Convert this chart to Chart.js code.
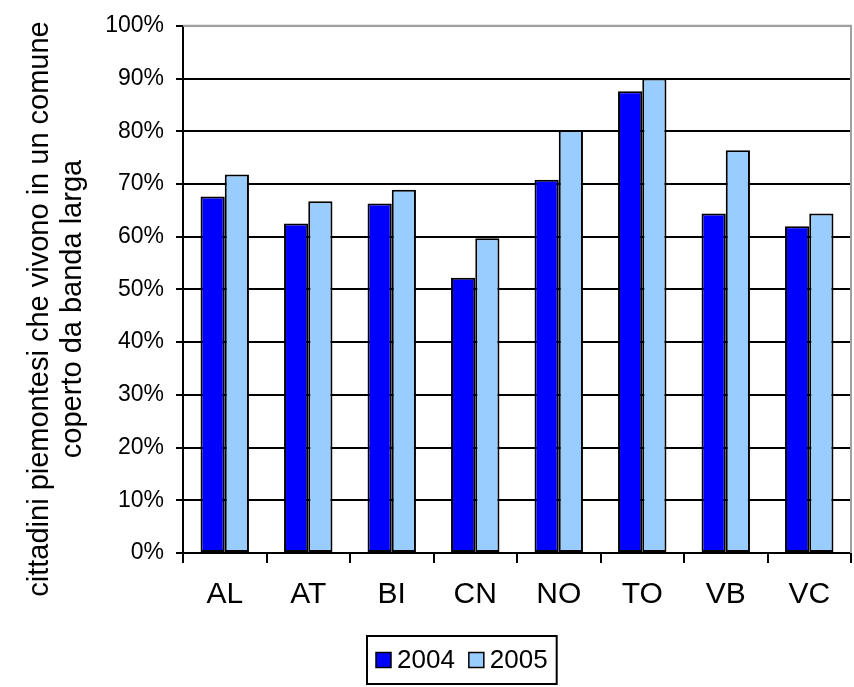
<!DOCTYPE html>
<html>
<head>
<meta charset="utf-8">
<script src="https://cdn.jsdelivr.net/npm/chart.js@4.4.1/dist/chart.umd.min.js"></script>
<style>
  html, body { margin: 0; padding: 0; background: #fff; }
  #wrap { width: 854px; height: 687px; }
</style>
</head>
<body>
<div id="wrap"><canvas id="broadband"></canvas></div>
<script>
// province data
const categories = ["AL", "AT", "BI", "CN", "NO", "TO", "VB", "VC"];
const seriesLabels = ["2004", "2005"];
const values2004 = [67.6, 62.5, 66.3, 52.2, 70.8, 87.6, 64.4, 62.0];
const values2005 = [71.8, 66.7, 68.9, 59.7, 80.2, 90.0, 76.4, 64.4];
const yTitleLines = ["cittadini piemontesi che vivono in un comune", "coperto da banda larga"];

const FONT = "'Liberation Sans', Arial, sans-serif";
const colors = ["#0000ff", "#99ccff"];

// gray frame around the plot (top and right edges)
const plotFrame = {
  id: "plotFrame",
  beforeDatasetsDraw(chart) {
    const { ctx, chartArea: a } = chart;
    ctx.save();
    ctx.strokeStyle = "#a0a0a0";
    ctx.lineWidth = 2;
    ctx.beginPath();
    ctx.moveTo(a.left, a.top);
    ctx.lineTo(a.right, a.top);
    ctx.lineTo(a.right, a.bottom);
    ctx.stroke();
    ctx.restore();
  },
};

// rotated two-line axis title
const yTitle = {
  id: "yTitle",
  afterDraw(chart) {
    const ctx = chart.ctx;
    ctx.save();
    ctx.fillStyle = "#000";
    ctx.font = "29px " + FONT;
    ctx.textAlign = "center";
    ctx.textBaseline = "middle";
    yTitleLines.forEach((line, i) => {
      ctx.save();
      ctx.translate(40 + i * 33, 309);
      ctx.rotate(-Math.PI / 2);
      ctx.fillText(line, 0, 0);
      ctx.restore();
    });
    ctx.restore();
  },
};

// boxed legend under the axis
const boxLegend = {
  id: "boxLegend",
  afterDraw(chart) {
    const ctx = chart.ctx;
    const ds = chart.data.datasets;
    ctx.save();
    ctx.font = "26px " + FONT;
    const sw = 15, gap = 6, between = 14, pad = 9;
    let w = pad * 2;
    ds.forEach((d, i) => {
      w += sw + gap + ctx.measureText(d.label).width + (i < ds.length - 1 ? between : 0);
    });
    const left = 367, top = 636, h = 48;
    ctx.strokeStyle = "#000";
    ctx.lineWidth = 2;
    ctx.strokeRect(left, top, w, h);
    const cy = top + h / 2;
    let x = left + pad;
    ds.forEach((d) => {
      ctx.fillStyle = d.backgroundColor;
      ctx.fillRect(x, cy - sw / 2, sw, sw);
      ctx.lineWidth = 1.5;
      ctx.strokeRect(x, cy - sw / 2, sw, sw);
      x += sw + gap;
      ctx.fillStyle = "#000";
      ctx.textBaseline = "middle";
      ctx.fillText(d.label, x, cy + 1);
      x += ctx.measureText(d.label).width + between;
    });
    ctx.restore();
  },
};

const chart = new Chart(document.getElementById("broadband").getContext("2d"), {
  type: "bar",
  data: {
    labels: categories,
    datasets: [
      {
        label: seriesLabels[0],
        data: values2004,
        backgroundColor: colors[0],
        borderColor: "#000",
        borderWidth: 2,
        borderSkipped: false,
      },
      {
        label: seriesLabels[1],
        data: values2005,
        backgroundColor: colors[1],
        borderColor: "#000",
        borderWidth: 2,
        borderSkipped: false,
      },
    ],
  },
  options: {
    responsive: true,
    maintainAspectRatio: false,
    animation: false,
    datasets: {
      bar: { categoryPercentage: 0.58, barPercentage: 1.0 },
    },
    layout: { padding: { top: 25, right: 3, bottom: 54, left: 0 } },
    scales: {
      x: {
        afterFit(scale) {
          scale.height = 80;
        },
        grid: {
          display: true,
          offset: true,
          drawOnChartArea: false,
          drawTicks: true,
          tickLength: 10,
          color: "#000",
          lineWidth: 2,
        },
        border: { color: "#000", width: 2 },
        ticks: {
          color: "#000",
          padding: 14,
          font: { family: FONT, size: 30 },
        },
      },
      y: {
        min: 0,
        max: 100,
        afterFit(scale) {
          scale.width = 183;
        },
        grid: {
          color: (c) => (c.tick && c.tick.value === 100 ? "#a0a0a0" : "#000"),
          tickColor: "#000",
          lineWidth: 2,
          tickLength: 7,
        },
        border: { color: "#000", width: 2 },
        ticks: {
          stepSize: 10,
          color: "#000",
          padding: 12,
          font: { family: FONT, size: 23 },
          callback: (v) => v + "%",
        },
      },
    },
    plugins: {
      legend: { display: false },
      tooltip: { enabled: false },
    },
  },
  plugins: [plotFrame, yTitle, boxLegend],
});
</script>
</body>
</html>
